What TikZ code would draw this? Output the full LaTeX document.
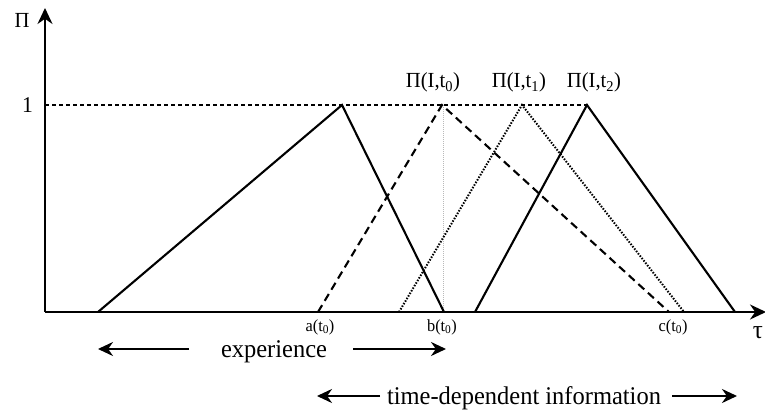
\documentclass[tikz,border=0pt]{standalone}
\usepackage{fontspec}
\setmainfont{Liberation Serif}[FakeStretch=0.96]
\usetikzlibrary{arrows.meta}
\begin{document}
\begin{tikzpicture}[x=1pt,y=-1pt,
  axis/.style={line width=2.2pt, -{Stealth[length=16pt,width=15pt]}},
  ln/.style={line width=2.1pt},
  refline/.style={line width=1.7pt, dash pattern=on 4pt off 3pt},
  dsh/.style={line width=2.1pt, dash pattern=on 8pt off 5pt},
  dts/.style={line width=2pt, dash pattern=on 1.5pt off 1.5pt},
  lbl/.style={font=\fontsize{21.5}{24}\selectfont, inner sep=0pt},
  small/.style={font=\fontsize{17}{19}\selectfont, inner sep=0pt},
  big/.style={font=\fontsize{25.5}{27}\selectfont, inner sep=0pt, anchor=base},
  arr/.style={line width=2.2pt, -{Stealth[length=15pt,width=14pt]}}]
\useasboundingbox (0,0) rectangle (765,419);
% axes
\coordinate (O) at (45,312);
\coordinate (ytip) at (45,8);
\coordinate (xtip) at (766,312);
\draw[axis] (O) -- (ytip);
\draw[axis] (O) -- (xtip);
% reference line at 1
\coordinate (r0) at (45,105);
\coordinate (r1) at (587,105);
\draw[refline] (r0) -- (r1);
% grey vertical
\coordinate (g0) at (443,105);
\coordinate (g1) at (443,312);
\draw[gray!55, line width=0.9pt, dash pattern=on 1pt off 1pt] (g0) -- (g1);
% triangles
\coordinate (A1) at (98,312); \coordinate (P1) at (342,105); \coordinate (B1) at (444,312);
\coordinate (A2) at (318,312); \coordinate (P2) at (442,105); \coordinate (B2) at (669,312);
\coordinate (A3) at (399,312); \coordinate (P3) at (522,105); \coordinate (B3) at (684,312);
\coordinate (A4) at (475,312); \coordinate (P4) at (587,105); \coordinate (B4) at (735,312);
\draw[ln] (A1) -- (P1) -- (B1);
\draw[dsh] (A2) -- (P2) -- (B2);
\draw[dts] (A3) -- (P3) -- (B3);
\draw[ln] (A4) -- (P4) -- (B4);
% labels
\node[lbl] (piy) at (22,20) {Π};
\node[lbl, font=\fontsize{22.5}{24}\selectfont] (one) at (27.5,105) {1};
\node[lbl, font=\fontsize{26}{28}\selectfont] (tau) at (758,333) {τ};
\node[lbl, anchor=base] (l0) at (433,88) {Π(I,t\textsubscript{0})};
\node[lbl, anchor=base] (l1) at (519,88) {Π(I,t\textsubscript{1})};
\node[lbl, anchor=base] (l2) at (594,88) {Π(I,t\textsubscript{2})};
\node[small] (a) at (320,327) {a(t\textsubscript{0})};
\node[small] (b) at (442,327) {b(t\textsubscript{0})};
\node[small] (c) at (673,327) {c(t\textsubscript{0})};
% experience
\node[big] (exp) at (274,357) {experience};
\coordinate (e1) at (189,349); \coordinate (e1t) at (98,349);
\coordinate (e2) at (353,349); \coordinate (e2t) at (446,349);
\draw[arr] (e1) -- (e1t);
\draw[arr] (e2) -- (e2t);
% time-dependent information
\node[big] (tdi) at (524,404) {time-dependent information};
\coordinate (t1) at (380,396); \coordinate (t1t) at (317,396);
\coordinate (t2) at (672,396); \coordinate (t2t) at (737,396);
\draw[arr] (t1) -- (t1t);
\draw[arr] (t2) -- (t2t);
\end{tikzpicture}
\end{document}
